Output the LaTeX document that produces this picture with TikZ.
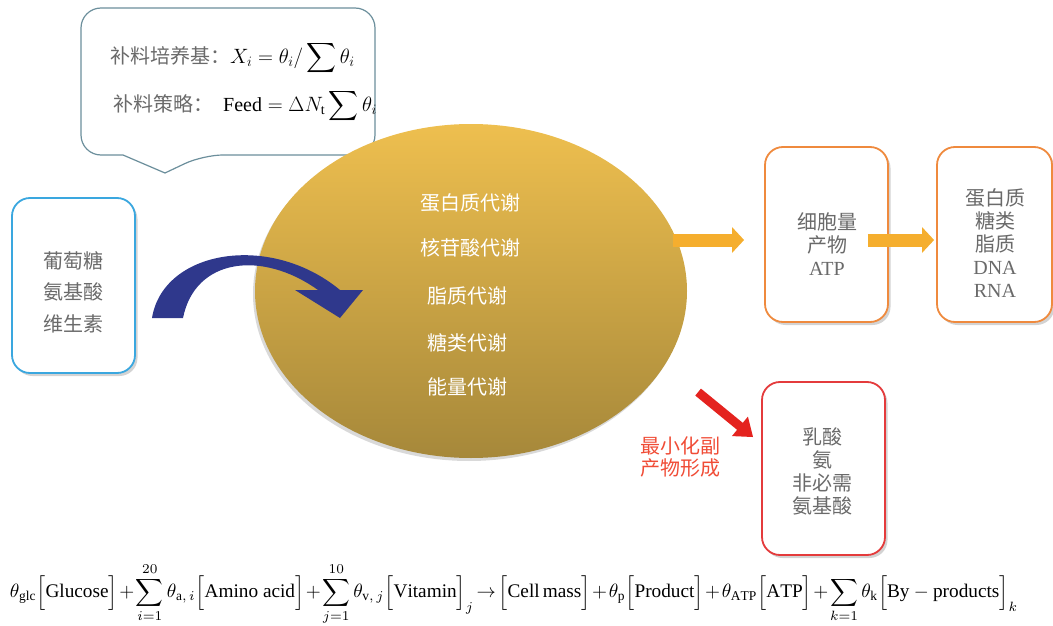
\documentclass[tikz,border=0pt]{standalone}
\usepackage{fontspec}
\setmainfont{Liberation Serif}
\newfontfamily\cjk{Noto Sans CJK SC}
\usepackage{amsmath}
\usetikzlibrary{arrows.meta,shadows,shapes.geometric,calc}
\definecolor{txtgray}{HTML}{6A6A6A}
\definecolor{bluebox}{HTML}{3AA7DF}
\definecolor{orbox}{HTML}{EF8A3E}
\definecolor{redbox}{HTML}{E43B3C}
\definecolor{calloutc}{HTML}{6C8F9C}
\definecolor{ortop}{HTML}{EEBF4F}
\definecolor{orbot}{HTML}{A6883A}
\definecolor{navy}{HTML}{2F388C}
\definecolor{orarrow}{HTML}{F5AE2E}
\definecolor{redarrow}{HTML}{E4231F}
\definecolor{redtxt}{HTML}{F04C36}
\begin{document}
\begin{tikzpicture}[x=1pt,y=-1pt,
  box/.style={draw, line width=1.8pt, rounded corners=18pt, fill=white,
    drop shadow={shadow xshift=2.5pt, shadow yshift=-3pt, opacity=0.35}},
  btxt/.style={text=txtgray, align=center, font=\cjk\fontsize{20}{23}\selectfont},
  etxt/.style={text=white, font=\cjk\fontsize{20}{23}\selectfont},
  oarr/.style={draw=orarrow, line width=13pt, -{Triangle[length=12pt,width=25pt]}},
  rarr/.style={draw=redarrow, line width=9pt, -{Triangle[length=17pt,width=24pt]}}]
\useasboundingbox (0,0) rectangle (1053,626);

% callout
\draw[calloutc, line width=1.2pt, fill=white] (123,155) [rounded corners=20pt] -- (81,155) -- (81,8) -- (375,8) -- (375,155) -- (203,155) [sharp corners] -- (165,173) -- cycle;
\node[anchor=west, inner sep=0pt] (c1) at (110,58) {\fontsize{20}{23}\selectfont{\cjk\color{txtgray}补料培养基：}$X_{i}=\theta_{i}/\displaystyle\sum\theta_{i}$};
\node[anchor=west, inner sep=0pt] (c2) at (113,106) {\fontsize{20}{23}\selectfont{\cjk\color{txtgray}补料策略：}\ \ $\mathrm{Feed}=\Delta N_{\mathrm{t}}\displaystyle\sum\theta_{i}$};

% central ellipse
\node[ellipse, minimum width=432pt, minimum height=334pt, top color=ortop, bottom color=orbot,
  drop shadow={shadow xshift=-2pt, shadow yshift=-3pt, opacity=0.3}] (ell) at (471,291) {};
\node[etxt] (e1) at (470,203) {蛋白质代谢};
\node[etxt] (e2) at (470,248) {核苷酸代谢};
\node[etxt] (e3) at (467,296) {脂质代谢};
\node[etxt] (e4) at (467,343) {糖类代谢};
\node[etxt] (e5) at (467,387) {能量代谢};

% boxes
\node[box, draw=bluebox, minimum width=123pt, minimum height=175pt] (box1) at (73.5,285.5) {};
\node[btxt, font=\cjk\fontsize{20}{31.5}\selectfont] (t1) at (73,292) {葡萄糖\\氨基酸\\维生素};
\node[box, draw=orbox, minimum width=123pt, minimum height=175pt] (box2) at (826.5,234.5) {};
\node[btxt] (t2) at (827,244) {细胞量\\产物\\{\rmfamily ATP}};
\node[box, draw=orbox, minimum width=115pt, minimum height=175pt] (box3) at (994.5,234.5) {};
\node[btxt] (t3) at (995,243) {蛋白质\\糖类\\脂质\\{\rmfamily DNA}\\{\rmfamily RNA}};
\node[box, draw=redbox, minimum width=123pt, minimum height=173pt] (box4) at (823.5,468.5) {};
\node[btxt] (t4) at (822,471) {乳酸\\氨\\非必需\\氨基酸};

% curved blue arrow
\fill[navy] (152,318) .. controls (163,250) and (270,232) .. (340,290) -- (363,290) -- (340,318) -- (295,290) -- (318,290)
  .. controls (262,250) and (195,258) .. (183,318) -- cycle;

% orange arrows
\draw[oarr] ($(box2.west -| ell.east)+(-14,5.5)$) -- ($(box2.west)+(-20,5.5)$);
\draw[oarr] ($(box2.east)+(-21,5.5)$) -- ($(box3.west)+(-2,5.5)$);

% red arrow
\draw[rarr] ($(box4.north west)+(-63,11)$) -- ($(box4.north west)+(-8,56)$);
\node[text=redtxt, align=center, font=\cjk\fontsize{20}{21.5}\selectfont] (rt) at (680,457) {最小化副\\产物形成};

% equation
\node[inner sep=0pt] (eq) at (514,594) {\resizebox{1008pt}{!}{\medmuskip=1.5mu\thickmuskip=2.5mu$\displaystyle
\theta_{\mathrm{glc}}\Bigl[\mathrm{Glucose}\Bigr]+\sum_{i=1}^{20}\theta_{\mathrm{a},\,i}\Bigl[\mathrm{Amino\ acid}\Bigr]+\sum_{j=1}^{10}\theta_{\mathrm{v},\,j}\Bigl[\mathrm{Vitamin}\Bigr]_{j}\rightarrow\Bigl[\mathrm{Cell\,mass}\Bigr]+\theta_{\mathrm{p}}\Bigl[\mathrm{Product}\Bigr]+\theta_{\mathrm{ATP}}\Bigl[\mathrm{ATP}\Bigr]+\sum_{k=1}\theta_{\mathrm{k}}\Bigl[\mathrm{By}\mskip4mu\mathord{-}\mskip4mu\mathrm{products}\Bigr]_{k}$}};
\end{tikzpicture}
\end{document}
